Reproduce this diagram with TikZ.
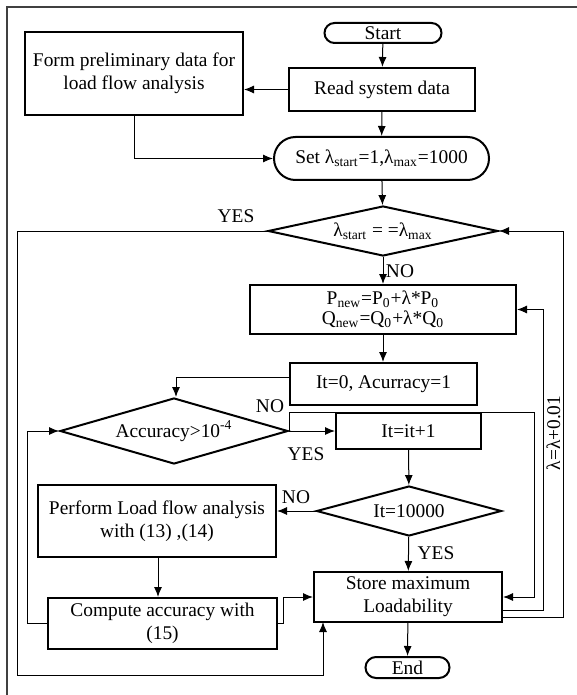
\documentclass[tikz,border=0pt]{standalone}
\usepackage{fontspec}
\setmainfont{Liberation Serif}
\usetikzlibrary{arrows.meta, shapes.geometric, shapes.misc}

\begin{document}
\begin{tikzpicture}[x=0.5pt, y=-0.5pt,
			font=\fontsize{9.7}{11.5}\selectfont,
			box/.style={draw, line width=1pt, align=center, inner sep=1pt},
			term/.style={draw, line width=1pt, rounded rectangle, inner sep=1pt},
			decision/.style={draw, line width=1pt, diamond, inner sep=0pt, align=center},
			link/.style={line width=0.5pt},
			arrow/.style={link, -{Latex[length=5pt, width=4pt]}},
			tag/.style={inner sep=1pt}]
			
			\useasboundingbox (0,0) rectangle (577,695);
			\draw [line width=0.6pt, black!75] (7,695) -- (7,7) -- (577,7);
			
			% main column
			\node [term, minimum width=60.5pt, minimum height=10pt] (start) at (383,33) {Start};
			\node [box, minimum width=93pt, minimum height=21.5pt] (read) at (382,89.5) {Read system data};
			\node [box, minimum width=109pt, minimum height=41.5pt] (form) at (134,73.5) {Form preliminary data for\\load flow analysis};
			\node [term, minimum width=109.5pt, minimum height=21.5pt] (set) at (381.5,158.5) {Set λ\textsubscript{start}=1,λ\textsubscript{max}=1000};
			\node [decision, aspect=4.6, minimum width=115pt, minimum height=25pt] (check) at (383,231) {λ\textsubscript{start} = =λ\textsubscript{max}};
			\node [box, minimum width=133pt, minimum height=24.5pt, font=\fontsize{9.7}{10}\selectfont] (update) at (383,309.5) {P\textsubscript{new}=P\textsubscript{0}+λ*P\textsubscript{0}\\Q\textsubscript{new}=Q\textsubscript{0}+λ*Q\textsubscript{0}};
			\node [box, minimum width=93.5pt, minimum height=21pt] (init) at (383.5,384) {It=0, Acurracy=1};
			
			% inner loop
			\node [decision, aspect=3.45, minimum width=114pt, minimum height=33pt] (acc) at (174,431) {Accuracy>10\textsuperscript{-4}};
			\node [box, minimum width=72.5pt, minimum height=18pt] (incr) at (408.5,431) {It=it+1};
			\node [decision, aspect=3.7, minimum width=92.5pt, minimum height=25pt] (iter) at (409,511) {It=10000};
			\node [box, minimum width=119pt, minimum height=36pt] (flow) at (157,521) {Perform Load flow analysis\\with (13) ,(14)};
			\node [box, minimum width=114.5pt, minimum height=25.5pt] (comp) at (162.5,623.5) {Compute accuracy with\\(15)};
			\node [box, minimum width=94pt, minimum height=25pt] (store) at (408,597) {Store maximum\\Loadability};
			\node [term, minimum width=44pt, minimum height=10.5pt] (end) at (407.5,667.5) {End};
			
			% labels
			\node [tag] (yes1) at (236,216) {YES};
			\node [tag] (no1) at (400,271) {NO};
			\node [tag] (no2) at (270,406) {NO};
			\node [tag] (yes2) at (306,454) {YES};
			\node [tag] (no3) at (296,497) {NO};
			\node [tag] (yes3) at (436,553) {YES};
			\node [inner sep=0pt, rotate=90] (inc) at (553.5,433) {λ=λ+0.01};
			
			% connectors
			\draw [arrow] (start) -- (read);
			\draw [arrow] (read.west) -- (read.west -| form.east);
			\draw [arrow] (read) -- (set);
			\draw [arrow] (form.south) |- (set.west);
			\draw [arrow] (set) -- (check);
			\draw [arrow] (check) -- (update);
			\draw [arrow] (check.west) -- (17,231) -- (17,675) -- (323,675) -- (323,622);
			\draw [arrow] (update.south) -- (update.south |- init.north);
			\draw [arrow] ([yshift=3.5pt]init.west) -| ([xshift=1pt]acc.north);
			\draw [arrow] (acc.east) -- (acc.east -| incr.west);
			\draw [arrow] (acc.east) |- (534,412) |- (store.east);
			\draw [arrow] (incr) -- (iter);
			\draw [arrow] (iter.west) -- (iter.west -| flow.east);
			\draw [arrow] (iter) -- (store);
			\draw [arrow] ([xshift=0.5pt]flow.south) -- ([xshift=0.5pt]flow.south |- comp.north);
			\draw [arrow] (comp.east) -- (283,623.5) |- (store.west);
			\draw [arrow] (comp.west) -- (27,623.5) |- (acc.west);
			\draw [arrow] ([yshift=-6.5pt]store.east) -- (543,610) |- (update.east);
			\draw [arrow] ([yshift=-10pt]store.east) -- (563,617) |- (check.east);
			\draw [arrow] (store) -- (end);
			
		\end{tikzpicture}
\end{document}
